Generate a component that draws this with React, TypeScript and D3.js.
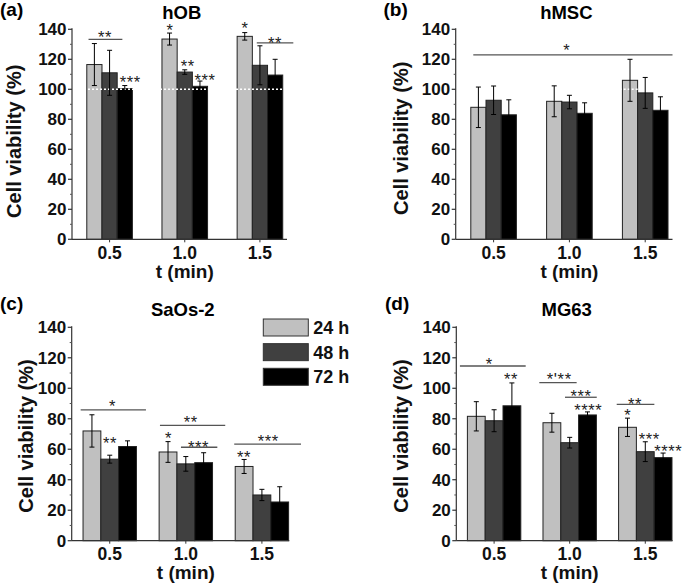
import React from "react";
import * as d3 from "d3";

// ---------- data ----------
const CATEGORIES = [0.5, 1.0, 1.5];
const X_TICK_LABELS = ["0.5", "1.0", "1.5"];
const Y_TICKS = [0, 20, 40, 60, 80, 100, 120, 140];
const Y_MINOR = [10, 30, 50, 70, 90, 110, 130];
const SERIES_NAMES = ["24 h", "48 h", "72 h"];

const HOB_24 = [116.5, 133.5, 135.3];
const HOB_48 = [111, 111.5, 116];
const HOB_72 = [100.5, 102, 109.5];
const HOB_ERR_24 = [14, 4, 2.5];
const HOB_ERR_48 = [15, 1.5, 13];
const HOB_ERR_72 = [2, 3.5, 10.5];

const HMSC_24 = [88, 92, 106];
const HMSC_48 = [92.7, 91.5, 97.6];
const HMSC_72 = [83, 84, 86];
const HMSC_ERR_24 = [13.5, 10.3, 14];
const HMSC_ERR_48 = [9.5, 4.5, 10.3];
const HMSC_ERR_72 = [10, 7, 9];

const SAOS_24 = [72, 58.2, 48.7];
const SAOS_48 = [53.5, 50.4, 30];
const SAOS_72 = [61.8, 51.2, 25.4];
const SAOS_ERR_24 = [10.6, 6.8, 4.6];
const SAOS_ERR_48 = [2.6, 4.8, 3.7];
const SAOS_ERR_72 = [3.7, 6.5, 10];

const MG63_24 = [81.6, 77.4, 74.4];
const MG63_48 = [78.7, 64.3, 58.4];
const MG63_72 = [88.5, 82.5, 54.5];
const MG63_ERR_24 = [9.6, 6.2, 6];
const MG63_ERR_48 = [7.2, 3.5, 6.5];
const MG63_ERR_72 = [15, 2, 3];

// significance brackets (x in t units, y in %)
const HOB_SIG_LINES = [
  { x1: 0.36, x2: 0.585, y: 133.3 },
  { x1: 1.479, x2: 1.722, y: 130.9 },
];
const HOB_SIG_TEXT = [
  { t: "**", x: 0.47, y: 137.3 },
  { t: "***", x: 0.638, y: 107.3 },
  { t: "*", x: 0.902, y: 141.7 },
  { t: "**", x: 1.02, y: 117.7 },
  { t: "***", x: 1.135, y: 108.9 },
  { t: "*", x: 1.401, y: 143.3 },
  { t: "**", x: 1.6, y: 133.5 },
];
const HMSC_SIG_LINES = [{ x1: 0.366, x2: 1.68, y: 123 }];
const HMSC_SIG_TEXT = [{ t: "*", x: 0.982, y: 128.4 }];
const SAOS_SIG_LINES = [
  { x1: 0.309, x2: 0.738, y: 85.8 },
  { x1: 0.83, x2: 1.259, y: 75.7 },
  { x1: 0.968, x2: 1.207, y: 61.3 },
  { x1: 1.318, x2: 1.757, y: 63.3 },
];
const SAOS_SIG_TEXT = [
  { t: "*", x: 0.519, y: 90.6 },
  { t: "**", x: 0.502, y: 66.5 },
  { t: "**", x: 1.032, y: 80.5 },
  { t: "*", x: 0.887, y: 69.8 },
  { t: "***", x: 1.084, y: 63.9 },
  { t: "***", x: 1.542, y: 68 },
  { t: "**", x: 1.382, y: 57.3 },
];
const MG63_SIG_LINES = [
  { x1: 0.274, x2: 0.709, y: 114.6 },
  { x1: 0.799, x2: 1.046, y: 103.7 },
  { x1: 0.969, x2: 1.179, y: 94.1 },
  { x1: 1.311, x2: 1.56, y: 89.5 },
];
const MG63_SIG_TEXT = [
  { t: "*", x: 0.468, y: 118.1 },
  { t: "**", x: 0.612, y: 108.7 },
  { t: "*'**", x: 0.931, y: 108.1 },
  { t: "***", x: 1.075, y: 97.4 },
  { t: "****", x: 1.123, y: 88.4 },
  { t: "**", x: 1.432, y: 92.3 },
  { t: "*", x: 1.384, y: 84.6 },
  { t: "***", x: 1.526, y: 68.9 },
  { t: "****", x: 1.652, y: 61.3 },
];

// ---------- styles / layout ----------
const FONT = "Arial, 'Liberation Sans', Helvetica, sans-serif";
const COLORS = ["#c0c0c0", "#404040", "#000000"];
const X_DOMAIN = [0.25, 1.68];

const PANELS = [
  {
    tag: "(a)", title: "hOB", tagX: 0, tagY: 16,
    left: 72, right: 287, top: 29.3, bottom: 239.3, barW: 15.2,
    ylabX: 21, ylabShift: 7, titleY: 19, xlabY: 278, dotted: true,
    means: [HOB_24, HOB_48, HOB_72], errs: [HOB_ERR_24, HOB_ERR_48, HOB_ERR_72],
    lines: HOB_SIG_LINES, texts: HOB_SIG_TEXT,
  },
  {
    tag: "(b)", title: "hMSC", tagX: 383.5, tagY: 16,
    left: 455.7, right: 672.5, top: 29.3, bottom: 239.3, barW: 15.2,
    ylabX: 408, ylabShift: 4, titleY: 19, xlabY: 278, dotted: true,
    means: [HMSC_24, HMSC_48, HMSC_72], errs: [HMSC_ERR_24, HMSC_ERR_48, HMSC_ERR_72],
    lines: HMSC_SIG_LINES, texts: HMSC_SIG_TEXT,
  },
  {
    tag: "(c)", title: "SaOs-2", tagX: 0, tagY: 310,
    left: 71.7, right: 289.3, top: 327.3, bottom: 540.7, barW: 17.8,
    ylabX: 32.6, ylabShift: 2, titleY: 316.3, xlabY: 579, dotted: false,
    means: [SAOS_24, SAOS_48, SAOS_72], errs: [SAOS_ERR_24, SAOS_ERR_48, SAOS_ERR_72],
    lines: SAOS_SIG_LINES, texts: SAOS_SIG_TEXT,
  },
  {
    tag: "(d)", title: "MG63", tagX: 385, tagY: 310,
    left: 456.3, right: 672.5, top: 327.3, bottom: 540.7, barW: 17.8,
    ylabX: 408, ylabShift: 2, titleY: 316.3, xlabY: 579, dotted: false,
    means: [MG63_24, MG63_48, MG63_72], errs: [MG63_ERR_24, MG63_ERR_48, MG63_ERR_72],
    lines: MG63_SIG_LINES, texts: MG63_SIG_TEXT,
  },
];

function Panel({ p }: { p: any }) {
  const x = d3.scaleLinear().domain(X_DOMAIN).range([p.left, p.right]);
  const y = d3.scaleLinear().domain([0, 140]).range([p.bottom, p.top]);
  const starFs = 16.5;
  return (
    <g>
      <text x={p.tagX} y={p.tagY} fontFamily={FONT} fontWeight="bold" fontSize={19} fill="#000">{p.tag}</text>
      <text x={x(0.98)} y={p.titleY} textAnchor="middle" fontFamily={FONT} fontWeight="bold" fontSize={18.5} fill="#000">{p.title}</text>
      {/* bars */}
      {p.means.map((series: number[], si: number) =>
        series.map((v: number, ci: number) => {
          const cx = x(CATEGORIES[ci]) + (si - 1) * p.barW;
          return (
            <rect key={`b${si}-${ci}`} x={cx - p.barW / 2} y={y(v)} width={p.barW} height={y(0) - y(v)}
              fill={COLORS[si]} stroke="#222" strokeWidth={1} />
          );
        })
      )}
      {p.dotted && (
        <line x1={p.left} x2={p.right} y1={y(100)} y2={y(100)} stroke="#fff" strokeWidth={1.6} strokeDasharray="2,2" />
      )}
      {/* error bars */}
      {p.means.map((series: number[], si: number) =>
        series.map((v: number, ci: number) => {
          const cx = x(CATEGORIES[ci]) + (si - 1) * p.barW;
          const e = p.errs[si][ci];
          return (
            <g key={`e${si}-${ci}`} stroke="#000" strokeWidth={1}>
              <line x1={cx} x2={cx} y1={y(v + e)} y2={y(v - e)} />
              <line x1={cx - 2.5} x2={cx + 2.5} y1={y(v + e)} y2={y(v + e)} />
              <line x1={cx - 2.5} x2={cx + 2.5} y1={y(v - e)} y2={y(v - e)} />
            </g>
          );
        })
      )}
      {/* axes */}
      <line x1={p.left} x2={p.left} y1={y(0)} y2={y(140) - 1} stroke="#333" strokeWidth={1.2} />
      <line x1={p.left} x2={p.right} y1={y(0)} y2={y(0)} stroke="#333" strokeWidth={1.2} />
      {Y_TICKS.map((t) => (
        <g key={`yt${t}`}>
          <line x1={p.left - 4} x2={p.left} y1={y(t)} y2={y(t)} stroke="#333" strokeWidth={1.2} />
          <text x={p.left - 5.5} y={y(t) + 6} textAnchor="end" fontFamily={FONT} fontWeight="bold" fontSize={17} fill="#111">{t}</text>
        </g>
      ))}
      {Y_MINOR.map((t) => (
        <line key={`ym${t}`} x1={p.left - 2} x2={p.left} y1={y(t)} y2={y(t)} stroke="#555" strokeWidth={1} />
      ))}
      {CATEGORIES.map((c, i) => (
        <g key={`xt${c}`}>
          <line x1={x(c)} x2={x(c)} y1={y(0)} y2={y(0) + 3} stroke="#333" strokeWidth={1} />
          <text x={x(c)} y={y(0) + 19.5} textAnchor="middle" fontFamily={FONT} fontWeight="bold" fontSize={17.5} fill="#111">{X_TICK_LABELS[i]}</text>
        </g>
      ))}
      <text x={x(1.0)} y={p.xlabY} textAnchor="middle" fontFamily={FONT} fontWeight="bold" fontSize={19} fill="#111">t (min)</text>
      <text transform={`translate(${p.ylabX},${(p.top + p.bottom) / 2 + p.ylabShift}) rotate(-90)`} textAnchor="middle"
        fontFamily={FONT} fontWeight="bold" fontSize={20} fill="#111">Cell viability (%)</text>
      {/* significance */}
      {p.lines.map((l: any, i: number) => (
        <line key={`sl${i}`} x1={x(l.x1)} x2={x(l.x2)} y1={y(l.y)} y2={y(l.y)} stroke="#555" strokeWidth={1.3} />
      ))}
      {p.texts.map((s: any, i: number) => (
        <text key={`st${i}`} x={x(s.x)} y={y(s.y) + starFs * 0.58} textAnchor="middle" fontFamily={FONT}
          fontSize={starFs} letterSpacing={0.6} fill="#222">{s.t}</text>
      ))}
    </g>
  );
}

function Legend() {
  const rows = d3.range(SERIES_NAMES.length);
  const yPos = d3.scaleLinear().domain([0, 2]).range([319, 368.3]);
  return (
    <g>
      {rows.map((i) => (
        <g key={`lg${i}`}>
          <rect x={263.3} y={yPos(i)} width={45} height={17} fill={COLORS[i]} stroke="#333" strokeWidth={1} />
          <text x={313.3} y={yPos(i) + 15} fontFamily={FONT} fontWeight="bold" fontSize={18} fill="#111">{SERIES_NAMES[i]}</text>
        </g>
      ))}
    </g>
  );
}

export default function App() {
  return (
    <svg width={685} height={586} style={{ position: "absolute", left: 0, top: 0, background: "#fff" }}>
      <rect x={0} y={0} width={685} height={586} fill="#fff" />
      {PANELS.map((p) => (
        <Panel key={p.tag} p={p} />
      ))}
      <Legend />
    </svg>
  );
}
